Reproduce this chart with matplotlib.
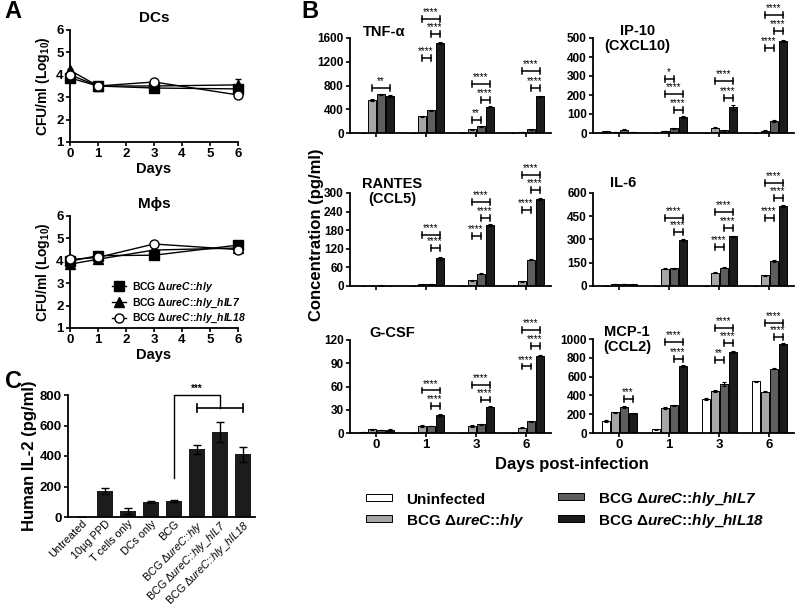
import numpy as np
import matplotlib
matplotlib.use("Agg")
import matplotlib.pyplot as plt
from matplotlib.patches import Rectangle

plt.rcParams["font.family"] = ["Liberation Sans", "DejaVu Sans"]
plt.rcParams["font.weight"] = "bold"
plt.rcParams["axes.labelweight"] = "bold"
plt.rcParams["axes.linewidth"] = 1.3
plt.rcParams["mathtext.fontset"] = "custom"
plt.rcParams["mathtext.rm"] = "Liberation Sans:bold"
plt.rcParams["mathtext.sf"] = "Liberation Sans:italic:bold"
plt.rcParams["mathtext.tt"] = "Liberation Sans:italic:regular"

W, H = 796, 614

# ---- panel A: CFU counts (log10)
days = [0, 1, 3, 6]
dc_hly = [3.86, 3.5, 3.41, 3.37]
dc_hil7 = [4.2, 3.5, 3.5, 3.55]
dc_hil18 = [4.0, 3.5, 3.68, 3.1]
dc_err = [[0.05, 0.04, 0.05, 0.1], [0.08, 0.04, 0.06, 0.25], [0.05, 0.04, 0.05, 0.05]]
mf_hly = [3.98, 4.23, 4.25, 4.7]
mf_hil7 = [3.85, 4.07, 4.48, 4.57]
mf_hil18 = [4.06, 4.15, 4.75, 4.5]
mf_err = [[0.05, 0.06, 0.08, 0.06], [0.05, 0.05, 0.06, 0.05], [0.05, 0.05, 0.06, 0.05]]

# ---- panel C: IL-2
c_labels = ["Untreated", "10µg PPD", "T cells only", "DCs only", "BCG",
            "BCG Δ$\\mathtt{ureC}$::$\\mathtt{hly}$",
            "BCG Δ$\\mathtt{ureC}$::$\\mathtt{hly}$_$\\mathtt{hIL7}$",
            "BCG Δ$\\mathtt{ureC}$::$\\mathtt{hly}$_$\\mathtt{hIL18}$"]
il2 = [0, 170, 40, 100, 105, 445, 560, 410]
il2_err = [0, 20, 22, 8, 4, 30, 65, 50]

# ---- panel B: cytokines, rows = strain, cols = day
b_days = ["0", "1", "3", "6"]
strains = ["Uninfected",
           "BCG Δ$\\mathsf{ureC}$::$\\mathsf{hly}$",
           "BCG Δ$\\mathsf{ureC}$::$\\mathsf{hly}$_$\\mathsf{hIL7}$",
           "BCG Δ$\\mathsf{ureC}$::$\\mathsf{hly}$_$\\mathsf{hIL18}$"]
bar_colors = ["white", "#a6a6a6", "#5e5e5e", "#1c1c1c"]

tnf = [[0, 0, 0, 0], [550, 280, 60, 20], [655, 385, 115, 60], [620, 1520, 440, 620]]
tnf_err = [[0, 0, 0, 0], [15, 12, 5, 3], [10, 10, 8, 4], [15, 20, 10, 10]]
tnf_sig = [(0, 1, 3, 760, "**"), (1, 1, 3, 1920, "****"), (1, 2, 3, 1667, "****"),
           (1, 1, 2, 1263, "****"), (2, 1, 3, 825, "****"), (2, 2, 3, 556, "****"),
           (2, 1, 2, 219, "**"), (3, 1, 3, 1044, "****"), (3, 2, 3, 758, "****")]

ip10 = [[8, 0, 0, 0], [5, 10, 28, 12], [18, 25, 15, 62], [5, 85, 135, 485]]
ip10_err = [[1, 0, 0, 0], [1, 2, 3, 2], [2, 3, 2, 4], [1, 5, 12, 5]]
ip10_sig = [(1, 1, 2, 284, "*"), (1, 1, 3, 205, "****"), (1, 2, 3, 121, "****"),
            (2, 1, 3, 274, "****"), (2, 2, 3, 184, "****"), (3, 1, 3, 621, "****"),
            (3, 2, 3, 537, "****"), (3, 1, 2, 447, "****")]

rantes = [[0, 0, 0, 0], [1, 5, 18, 15], [2, 7, 40, 85], [1, 90, 197, 280]]
rantes_err = [[0, 0, 0, 0], [0.5, 1, 2, 2], [0.5, 1, 2, 2], [0.5, 5, 3, 4]]
rantes_sig = [(1, 1, 3, 165, "****"), (1, 2, 3, 123, "****"), (2, 1, 3, 271, "****"),
              (2, 2, 3, 219, "****"), (2, 1, 2, 161, "****"), (3, 1, 3, 358, "****"),
              (3, 2, 3, 310, "****"), (3, 1, 2, 245, "****")]

il6 = [[0, 0, 0, 0], [12, 110, 85, 70], [12, 115, 118, 162], [10, 295, 320, 515]]
il6_err = [[0, 0, 0, 0], [1, 3, 4, 3], [1, 3, 5, 4], [1, 5, 5, 5]]
il6_sig = [(1, 1, 3, 439, "****"), (1, 2, 3, 348, "****"), (2, 1, 3, 477, "****"),
           (2, 2, 3, 374, "****"), (2, 1, 2, 252, "****"), (3, 1, 3, 665, "****"),
           (3, 2, 3, 568, "****"), (3, 1, 2, 439, "****")]

gcsf = [[1, 0, 0, 0], [5, 9, 9, 7], [4, 9, 11, 15], [4, 23, 34, 100]]
gcsf_err = [[0.3, 0, 0, 0], [0.5, 1, 1, 0.5], [0.5, 0.5, 1, 0.5], [0.8, 1.5, 1, 1]]
gcsf_sig = [(1, 1, 3, 55, "****"), (1, 2, 3, 35, "****"), (2, 1, 3, 62, "****"),
            (2, 2, 3, 43, "****"), (3, 1, 3, 133, "****"), (3, 2, 3, 112, "****"),
            (3, 1, 2, 86, "****")]

mcp1 = [[130, 40, 365, 550], [220, 268, 448, 438], [275, 295, 525, 685], [210, 715, 865, 948]]
mcp1_err = [[10, 5, 12, 8], [8, 10, 8, 6], [8, 6, 20, 8], [6, 8, 10, 8]]
mcp1_sig = [(0, 2, 3, 362, "***"), (1, 1, 3, 968, "****"), (1, 2, 3, 787, "****"),
            (2, 1, 3, 1117, "****"), (2, 2, 3, 957, "****"), (2, 1, 2, 777, "**"),
            (3, 1, 3, 1170, "****"), (3, 2, 3, 1021, "****")]


fig = plt.figure(figsize=(W / 100, H / 100), dpi=100)


def add_ax(l, t, r, b):
    return fig.add_axes([l / W, 1 - b / H, (r - l) / W, (b - t) / H])


def prism(ax, size=8.5):
    ax.spines["top"].set_visible(False)
    ax.spines["right"].set_visible(False)
    ax.tick_params(direction="out", length=3, width=1.2, labelsize=size, pad=1.5)


def fig_text(x, y, s, ha="center", va="center", **kw):
    fig.text(x / W, 1 - y / H, s, ha=ha, va=va, **kw)


# panel A
markers = [("s", "black"), ("^", "black"), ("o", "white")]
for (t, b, title, series, errs, legend) in [
        (30, 142, "DCs", [dc_hly, dc_hil7, dc_hil18], dc_err, False),
        (216, 328, "Mϕs", [mf_hly, mf_hil7, mf_hil18], mf_err, True)]:
    ax = add_ax(70, t, 238, b)
    prism(ax, 9.5)
    for k, y in enumerate(series):
        m, fc = markers[k]
        ax.errorbar(days, y, yerr=errs[k], color="black", lw=1, marker=m, ms=6.5,
                    mfc=fc, mec="black", mew=1, capsize=2, elinewidth=1, clip_on=False,
                    zorder=3 + k, label=strains[k + 1])
    ax.set_xlim(0, 6)
    ax.set_ylim(1, 6)
    ax.set_xticks(range(7))
    ax.set_yticks(range(1, 7))
    ax.set_xlabel("Days", fontsize=10.5, labelpad=1)
    ax.set_ylabel("CFU/ml (Log$_{10}$)", fontsize=10, labelpad=3)
    ax.set_title(title, fontsize=11, fontweight="bold", pad=6)
    if legend:
        handles, labels = ax.get_legend_handles_labels()
        ax.legend([h[0] for h in handles], labels, loc="lower right", fontsize=7.5,
                  frameon=False, handlelength=1.4, handletextpad=0.5, labelspacing=0.25,
                  bbox_to_anchor=(1.1, -0.06))

# panel C
ax = add_ax(68, 395, 255, 517)
prism(ax, 9.5)
xc = np.arange(len(il2))
ax.bar(xc, il2, width=0.72, color="#1c1c1c", yerr=il2_err,
       error_kw=dict(elinewidth=1, capsize=3, capthick=1, ecolor="black"))
ax.set_xlim(-0.6, 7.52)
ax.set_ylim(0, 800)
ax.set_yticks([0, 200, 400, 600, 800])
ax.set_xticks(xc)
ax.set_xticklabels(c_labels, rotation=45, ha="right", rotation_mode="anchor",
                   fontsize=7.8, fontweight="normal")
ax.tick_params(axis="x", length=0, pad=1)
ax.set_ylabel("Human IL-2 (pg/ml)", fontsize=12, labelpad=2)
ax.plot([4, 4, 6, 6], [256, 800, 800, 715], color="black", lw=1, clip_on=False)
ax.plot([5, 7], [715, 715], color="black", lw=1.2, clip_on=False)
for xx in (5, 7):
    ax.plot([xx, xx], [690, 740], color="black", lw=1.2, clip_on=False)
ax.text(5, 805, "***", ha="center", va="bottom", fontsize=7)

# panel B
offs = [-0.27, -0.09, 0.09, 0.27]
cyto = [
    (tnf, tnf_err, tnf_sig, [0, 400, 800, 1200, 1600], "TNF-α", (350, 38, 551, 133), (0.17, 1.06)),
    (ip10, ip10_err, ip10_sig, [0, 100, 200, 300, 400, 500], "IP-10\n(CXCL10)", (593, 38, 794, 133), (0.22, 0.995)),
    (rantes, rantes_err, rantes_sig, [0, 60, 120, 180, 240, 300], "RANTES\n(CCL5)", (350, 193, 551, 286), (0.21, 1.02)),
    (il6, il6_err, il6_sig, [0, 150, 300, 450, 600], "IL-6", (593, 193, 794, 286), (0.15, 1.11)),
    (gcsf, gcsf_err, gcsf_sig, [0, 30, 60, 90, 120], "G-CSF", (350, 340, 551, 433), (0.21, 1.075)),
    (mcp1, mcp1_err, mcp1_sig, [0, 200, 400, 600, 800, 1000], "MCP-1\n(CCL2)", (593, 339, 794, 433), (0.17, 0.995)),
]
for i, (vals, errs, sigs, yt, title, box, tpos) in enumerate(cyto):
    ax = add_ax(*box)
    prism(ax, 8.5)
    x = np.arange(len(b_days))
    for k in range(4):
        ax.bar(x + offs[k], vals[k], width=0.16, yerr=errs[k], color=bar_colors[k],
               edgecolor="black", linewidth=0.7,
               error_kw=dict(elinewidth=0.8, capsize=1.5, capthick=0.8))
    top = yt[-1]
    ax.set_ylim(0, top)
    ax.set_yticks(yt)
    ax.set_xlim(-0.52, 3.5)
    ax.set_xticks(x)
    if i >= 4:
        ax.set_xticklabels(b_days, fontsize=9.5)
    else:
        ax.set_xticklabels([])
    c = top * 0.03
    for (d, a, b, y, lab) in sigs:
        x1, x2 = d + offs[a], d + offs[b]
        ax.plot([x1, x2], [y, y], color="black", lw=1.1, clip_on=False)
        for xx in (x1, x2):
            ax.plot([xx, xx], [y - c, y + c], color="black", lw=1.1, clip_on=False)
        ax.text((x1 + x2) / 2, y + c * 0.6, lab, ha="center", va="bottom",
                fontsize=7, fontweight="normal")
    ax.text(tpos[0], tpos[1], title, transform=ax.transAxes, ha="center", va="center",
            fontsize=10.5, linespacing=1.1)

fig_text(317, 235, "Concentration (pg/ml)", fontsize=12, fontweight="bold", rotation=90)
fig_text(572, 465, "Days post-infection", fontsize=12, fontweight="bold")

# panel B legend, two columns
leg_pos = [(366, 497), (366, 518), (558, 496), (558, 518)]
for k, (lx, ly) in enumerate(leg_pos):
    fig.add_artist(Rectangle((lx / W, 1 - (ly + 3.5) / H), 26 / W, 7 / H,
                             transform=fig.transFigure, facecolor=bar_colors[k],
                             edgecolor="black", linewidth=0.7))
    fig_text(lx + 40, ly + 7, strains[k], ha="left", va="baseline", fontsize=11)

fig_text(13, 12, "A", fontsize=17, fontweight="bold")
fig_text(310, 12, "B", fontsize=17, fontweight="bold")
fig_text(13, 381, "C", fontsize=17, fontweight="bold")

fig.savefig("out.png", dpi=100)
